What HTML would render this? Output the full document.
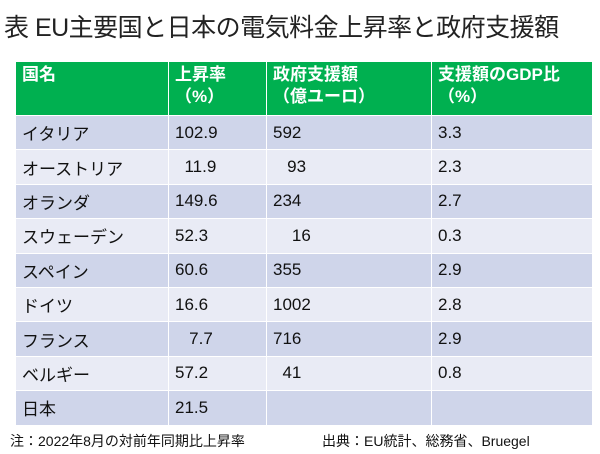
<!DOCTYPE html>
<html><head><meta charset="utf-8"><style>
body{margin:0;width:600px;height:454px;background:#fff;font-family:"Liberation Sans","Noto Sans CJK JP",sans-serif;position:relative;overflow:hidden}
.t{position:absolute;left:4px;top:8px;font-size:25px;color:#222;white-space:nowrap;letter-spacing:-0.5px}
table{position:absolute;left:15px;top:61px;width:577px;border-collapse:collapse;table-layout:fixed}
td{border:1.5px solid #fff;padding:0 0 0 6px;font-size:17px;color:#111;height:33.4px;white-space:nowrap}
th{background:#00b050;color:#fff;font-weight:bold;text-align:left;vertical-align:top;font-size:17px;border:1.5px solid #fff;padding:2px 0 0 6px;height:51px;line-height:22px;white-space:nowrap}
tr.a td{background:#cfd5ea}
tr.b td{background:#e9ebf5}
.f{position:absolute;top:431px;font-size:14px;color:#111;white-space:nowrap}
</style></head><body>
<div class="t">表 EU主要国と日本の電気料金上昇率と政府支援額</div>
<table>
<colgroup><col style="width:153px"><col style="width:98px"><col style="width:165px"><col style="width:161px"></colgroup>
<tr><th>国名</th><th>上昇率<br>（%）</th><th>政府支援額<br>（億ユーロ）</th><th>支援額のGDP比<br>（%）</th></tr>
<tr class="a"><td>イタリア</td><td>102.9</td><td>592</td><td>3.3</td></tr>
<tr class="b"><td>オーストリア</td><td>&nbsp;&nbsp;11.9</td><td>&nbsp;&nbsp;&nbsp;93</td><td>2.3</td></tr>
<tr class="a"><td>オランダ</td><td>149.6</td><td>234</td><td>2.7</td></tr>
<tr class="b"><td>スウェーデン</td><td>52.3</td><td>&nbsp;&nbsp;&nbsp;&nbsp;16</td><td>0.3</td></tr>
<tr class="a"><td>スペイン</td><td>60.6</td><td>355</td><td>2.9</td></tr>
<tr class="b"><td>ドイツ</td><td>16.6</td><td>1002</td><td>2.8</td></tr>
<tr class="a"><td>フランス</td><td>&nbsp;&nbsp;&nbsp;7.7</td><td>716</td><td>2.9</td></tr>
<tr class="b"><td>ベルギー</td><td>57.2</td><td>&nbsp;&nbsp;41</td><td>0.8</td></tr>
<tr class="a"><td>日本</td><td>21.5</td><td></td><td></td></tr>
</table>
<div class="f" style="left:10px">注：2022年8月の対前年同期比上昇率</div>
<div class="f" style="left:322px">出典：EU統計、総務省、Bruegel</div>
</body></html>
